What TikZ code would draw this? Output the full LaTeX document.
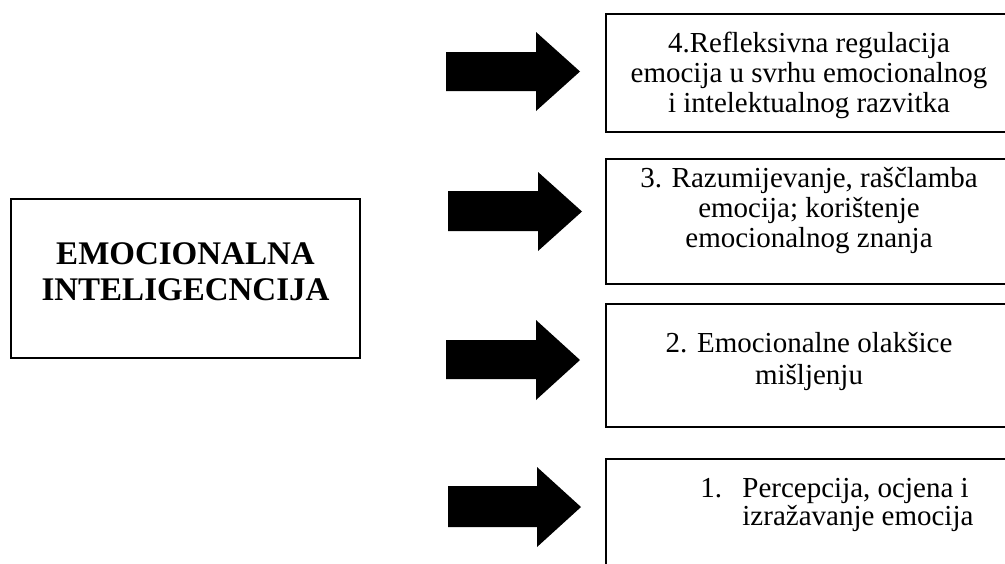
\documentclass[tikz,border=0pt]{standalone}
\usepackage{fontspec}
\setmainfont{Liberation Serif}
\usetikzlibrary{positioning}

\begin{document}
\begin{tikzpicture}[
  x=0.5pt, y=-0.5pt,
  central/.style={draw, line width=1pt, inner sep=0pt, anchor=north west,
                  minimum width=174.5pt, minimum height=79.5pt},
  caixa/.style={draw, line width=1pt, inner sep=0pt, anchor=north west,
                minimum width=203pt},
  titulo/.style={inner sep=0pt, align=center,
                 font=\fontsize{16.5}{18}\selectfont\bfseries},
  texto/.style={inner sep=0pt, align=center,
                font=\fontsize{14.5}{15}\selectfont},
  seta/.style={fill=black}
]
\useasboundingbox (0,0) rectangle (1005,563);
\clip (0,0) rectangle (1005,563);

% bloco central
\node[central] (emo) at (10,198) {};
\node[titulo, below=22pt of emo.north] (emotxt) {EMOCIONALNA\\INTELIGECNCIJA};

% razine
\node[caixa, minimum height=59pt]   (b4) at (605,13)  {};
\node[caixa, minimum height=62.5pt] (b3) at (605,158) {};
\node[caixa, minimum height=61.5pt] (b2) at (605,303) {};
\node[caixa, minimum height=66pt]   (b1) at (605,458) {};

\node[texto, below=9.5pt of b4.north] (t4) {4.Refleksivna regulacija\\
                                          emocija u svrhu emocionalnog\\
                                          i intelektualnog razvitka};
\node[texto, below=4.5pt of b3.north] (t3) {3. Razumijevanje, raščlamba\\
                                          emocija; korištenje\\
                                          emocionalnog znanja};
\node[texto, font=\fontsize{14.5}{16}\selectfont,
      below=14.5pt of b2.north] (t2) {2. Emocionalne olakšice\\
                                     mišljenju};
\node[texto, align=left, font=\fontsize{14.5}{14}\selectfont,
      below right=10pt and 47.5pt of b1.north west] (t1)
      {\makebox[21pt][l]{1.}Percepcija, ocjena i\\
       \hspace*{21pt}izražavanje emocija};

% strelice
\fill[seta] (446,52)  -- (536,52)  -- (536,32)  -- (580,71.5) -- (536,111) -- (536,91)  -- (446,91)  -- cycle;
\fill[seta] (448,191) -- (538,191) -- (538,172) -- (582,211.5) -- (538,251) -- (538,231) -- (448,231) -- cycle;
\fill[seta] (446,340) -- (536,340) -- (536,320) -- (580,360) -- (536,400) -- (536,379) -- (446,379) -- cycle;
\fill[seta] (448,486) -- (537,486) -- (537,467) -- (581,507) -- (537,547) -- (537,527) -- (448,527) -- cycle;

\end{tikzpicture}
\end{document}
